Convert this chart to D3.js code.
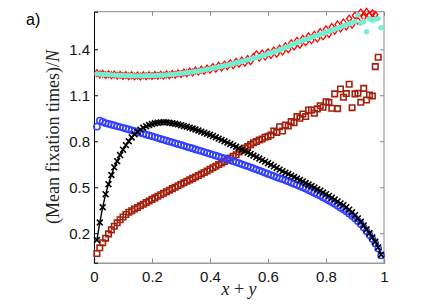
<!DOCTYPE html>
<html>
<head>
<meta charset="utf-8">
<script src="https://cdn.jsdelivr.net/npm/d3@7"></script>
<style>
  body { margin: 0; background: #fff; }
  svg { display: block; }
  .tick-label { font-family: "Liberation Sans", Arial, sans-serif; font-size: 15px; fill: #111; }
</style>
</head>
<body>
<svg id="chart" width="443" height="305"></svg>
<script>
// x + y values (grid of the simulation)
const xs = [0.01,0.02,0.03,0.04,0.05,0.06,0.07,0.08,0.09,0.10,
  0.11,0.12,0.13,0.14,0.15,0.16,0.17,0.18,0.19,0.20,
  0.21,0.22,0.23,0.24,0.25,0.26,0.27,0.28,0.29,0.30,
  0.31,0.32,0.33,0.34,0.35,0.36,0.37,0.38,0.39,0.40,
  0.41,0.42,0.43,0.44,0.45,0.46,0.47,0.48,0.49,0.50,
  0.51,0.52,0.53,0.54,0.55,0.56,0.57,0.58,0.59,0.60,
  0.61,0.62,0.63,0.64,0.65,0.66,0.67,0.68,0.69,0.70,
  0.71,0.72,0.73,0.74,0.75,0.76,0.77,0.78,0.79,0.80,
  0.81,0.82,0.83,0.84,0.85,0.86,0.87,0.88,0.89,0.90,
  0.91,0.92,0.93,0.94,0.95,0.96,0.97,0.98,0.99];

// red diamonds
const redDiamonds = [1.243,1.236,1.240,1.232,1.237,1.230,1.235,1.228,1.233,1.226,
  1.232,1.224,1.230,1.223,1.229,1.222,1.230,1.224,1.231,1.225,
  1.232,1.227,1.234,1.228,1.236,1.231,1.239,1.234,1.244,1.238,
  1.249,1.243,1.255,1.248,1.261,1.254,1.267,1.260,1.275,1.266,
  1.284,1.273,1.292,1.281,1.300,1.289,1.309,1.296,1.318,1.305,
  1.327,1.312,1.336,1.322,1.350,1.368,1.345,1.372,1.352,1.380,
  1.362,1.392,1.370,1.405,1.385,1.420,1.400,1.440,1.418,1.455,
  1.430,1.468,1.445,1.485,1.458,1.495,1.470,1.512,1.484,1.530,
  1.500,1.545,1.520,1.562,1.535,1.575,1.548,1.600,1.560,1.620,
  1.585,1.640,1.610,1.645,1.622,1.635,1.625,null,null];

// cyan stars
const cyanStars = [1.240,1.238,1.236,1.236,1.234,1.233,1.232,1.231,1.230,1.230,
  1.229,1.228,1.228,1.227,1.227,1.227,1.227,1.228,1.228,1.229,
  1.229,1.230,1.231,1.232,1.233,1.235,1.236,1.238,1.240,1.243,
  1.245,1.248,1.250,1.253,1.256,1.259,1.262,1.266,1.269,1.273,
  1.277,1.281,1.285,1.289,1.293,1.297,1.301,1.306,1.311,1.316,
  1.321,1.326,1.331,1.336,1.341,1.347,1.352,1.358,1.364,1.370,
  1.376,1.382,1.388,1.396,1.404,1.412,1.418,1.428,1.436,1.444,
  1.452,1.458,1.465,1.470,1.478,1.484,1.490,1.497,1.503,1.510,
  1.518,1.524,1.530,1.538,1.545,1.552,1.560,1.566,1.574,1.582,
  1.624,1.570,1.580,1.515,1.600,1.590,1.596,1.600,1.541];

// dark red squares
const darkSquares = [0.068,0.105,0.138,0.168,0.196,0.222,0.246,0.268,0.288,0.306,
  0.322,0.337,0.347,0.358,0.368,0.379,0.389,0.400,0.410,0.421,
  0.431,0.441,0.451,0.461,0.471,0.481,0.491,0.500,0.510,0.520,
  0.529,0.539,0.548,0.558,0.567,0.577,0.587,0.596,0.606,0.617,
  0.627,0.637,0.648,0.658,0.669,0.680,0.691,0.702,0.712,0.730,
  0.741,0.755,0.765,0.778,0.790,0.798,0.808,0.815,0.826,0.832,
  0.841,0.867,0.858,0.895,0.867,0.906,0.900,0.928,0.921,0.961,
  0.950,0.978,0.961,1.004,1.004,0.983,1.011,1.032,1.022,1.058,
  1.054,1.015,1.109,1.013,1.141,1.087,1.111,1.172,1.019,1.109,
  1.113,1.054,1.145,1.069,1.102,1.095,1.287,1.348,null];

// blue circles
const blueCircles = [0.895,0.935,0.926,0.918,0.913,0.908,0.903,0.898,0.893,0.888,
  0.882,0.877,0.871,0.866,0.860,0.855,0.849,0.843,0.838,0.832,
  0.827,0.821,0.815,0.810,0.804,0.798,0.793,0.787,0.781,0.776,
  0.770,0.764,0.759,0.753,0.747,0.741,0.736,0.730,0.724,0.718,
  0.712,0.706,0.700,0.694,0.688,0.682,0.676,0.670,0.663,0.657,
  0.650,0.643,0.637,0.630,0.623,0.616,0.609,0.602,0.594,0.587,
  0.580,0.573,0.565,0.558,0.553,0.545,0.538,0.530,0.522,0.514,
  0.507,0.499,0.490,0.481,0.472,0.463,0.453,0.444,0.434,0.424,
  0.413,0.402,0.391,0.379,0.367,0.355,0.342,0.328,0.313,0.297,
  0.279,0.259,0.237,0.213,0.188,0.162,0.134,0.100,0.055];

// black crosses with line
const blackCrosses = [0.156,0.270,0.370,0.455,0.520,0.580,0.630,0.670,0.710,0.745,
  0.775,0.800,0.825,0.845,0.862,0.876,0.888,0.898,0.906,0.912,
  0.917,0.921,0.923,0.924,0.923,0.921,0.918,0.914,0.910,0.905,
  0.900,0.895,0.889,0.883,0.877,0.870,0.863,0.856,0.849,0.842,
  0.834,0.826,0.817,0.809,0.800,0.791,0.782,0.773,0.764,0.755,
  0.745,0.736,0.726,0.717,0.707,0.697,0.687,0.677,0.667,0.657,
  0.647,0.636,0.626,0.615,0.605,0.595,0.586,0.576,0.567,0.557,
  0.547,0.538,0.528,0.518,0.508,0.498,0.487,0.477,0.466,0.455,
  0.444,0.432,0.420,0.408,0.395,0.383,0.370,0.354,0.337,0.318,
  0.297,0.275,0.251,0.225,0.200,0.173,0.145,0.108,0.060];

const xTicks = [0, 0.2, 0.4, 0.6, 0.8, 1];
const yTicks = [0.2, 0.5, 0.8, 1.1, 1.4];

const svg = d3.select("#chart");
const x = d3.scaleLinear().domain([0, 1]).range([94, 384]);
const y = d3.scaleLinear().domain([0.008, 1.645]).range([262.7, 11.7]);

const pts = arr => xs.map((v, i) => [v, arr[i]]).filter(d => d[1] != null);

// frame
const frame = svg.append("g");
frame.append("line").attr("x1", 94).attr("x2", 384).attr("y1", 11.7).attr("y2", 11.7).attr("stroke", "#888");
frame.append("line").attr("x1", 384).attr("x2", 384).attr("y1", 11.7).attr("y2", 262.7).attr("stroke", "#888");

// axes
const xAxis = svg.append("g").attr("transform", "translate(0,262.7)")
  .call(d3.axisBottom(x).tickValues(xTicks).tickSize(-4).tickPadding(9).tickFormat(d3.format("~g")));
xAxis.select(".domain").attr("stroke", "#999").attr("stroke-width", 1.5);
xAxis.selectAll(".tick line").attr("stroke", "#888");
xAxis.selectAll("text").attr("class", "tick-label").attr("font-size", null).attr("font-family", null);

const xTop = svg.append("g").attr("transform", "translate(0,11.7)")
  .call(d3.axisTop(x).tickValues(xTicks).tickSize(-4).tickFormat(""));
xTop.select(".domain").remove();
xTop.selectAll(".tick line").attr("stroke", "#888");

const yAxis = svg.append("g").attr("transform", "translate(94,0)")
  .call(d3.axisLeft(y).tickValues(yTicks).tickSize(-4).tickPadding(4).tickFormat(d3.format(".1f")));
yAxis.select(".domain").attr("stroke", "#000");
yAxis.selectAll(".tick line").attr("stroke", "#000");
yAxis.selectAll("text").attr("class", "tick-label").attr("font-size", null).attr("font-family", null);

const yRight = svg.append("g").attr("transform", "translate(384,0)")
  .call(d3.axisRight(y).tickValues(yTicks).tickSize(-4).tickFormat(""));
yRight.select(".domain").remove();
yRight.selectAll(".tick line").attr("stroke", "#888");

const plot = svg.append("g");

// dark red squares
plot.append("g").selectAll("path").data(pts(darkSquares)).join("path")
  .attr("transform", d => `translate(${x(d[0])},${y(d[1])})`)
  .attr("d", d3.symbol(d3.symbolSquare, 30))
  .attr("fill", "none").attr("stroke", "#a3200e").attr("stroke-width", 1.6);

// blue circles
plot.append("g").selectAll("circle").data(pts(blueCircles)).join("circle")
  .attr("cx", d => x(d[0])).attr("cy", d => y(d[1])).attr("r", 3.1)
  .attr("fill", "none").attr("stroke", "#3340ff").attr("stroke-width", 1.5);

// black line and crosses
plot.append("path").datum(pts(blackCrosses))
  .attr("d", d3.line().x(d => x(d[0])).y(d => y(d[1])))
  .attr("fill", "none").attr("stroke", "#000").attr("stroke-width", 1.4);
plot.append("g").selectAll("path").data(pts(blackCrosses)).join("path")
  .attr("transform", d => `translate(${x(d[0])},${y(d[1])})`)
  .attr("d", "M-2.9,-2.9L2.9,2.9M-2.9,2.9L2.9,-2.9")
  .attr("stroke", "#000").attr("stroke-width", 1.6);

// red diamonds
plot.append("g").selectAll("path").data(pts(redDiamonds)).join("path")
  .attr("transform", d => `translate(${x(d[0])},${y(d[1])})`)
  .attr("d", "M0,-3.4L2.6,0L0,3.4L-2.6,0Z")
  .attr("fill", "none").attr("stroke", "#ff0000").attr("stroke-width", 1.3);

// cyan stars
plot.append("g").selectAll("circle").data(pts(cyanStars)).join("circle")
  .attr("cx", d => x(d[0])).attr("cy", d => y(d[1])).attr("r", 2.6)
  .attr("fill", "#72f0d2");

// labels
svg.append("text").attr("x", 26).attr("y", 25)
  .attr("font-family", "Liberation Sans, Arial, sans-serif").attr("font-size", 16).text("a)");

const yl = svg.append("text")
  .attr("transform", "translate(59,137) rotate(-90)")
  .attr("text-anchor", "middle")
  .attr("font-family", "Liberation Serif, serif").attr("font-size", 18).attr("fill", "#222");
yl.append("tspan").text("(Mean fixation times)/");
yl.append("tspan").attr("font-style", "italic").text("N");

const xl = svg.append("text").attr("x", 239).attr("y", 295)
  .attr("text-anchor", "middle")
  .attr("font-family", "Liberation Serif, serif").attr("font-size", 18).attr("fill", "#222");
xl.append("tspan").attr("font-style", "italic").text("x");
xl.append("tspan").text(" + ");
xl.append("tspan").attr("font-style", "italic").text("y");
</script>
</body>
</html>
